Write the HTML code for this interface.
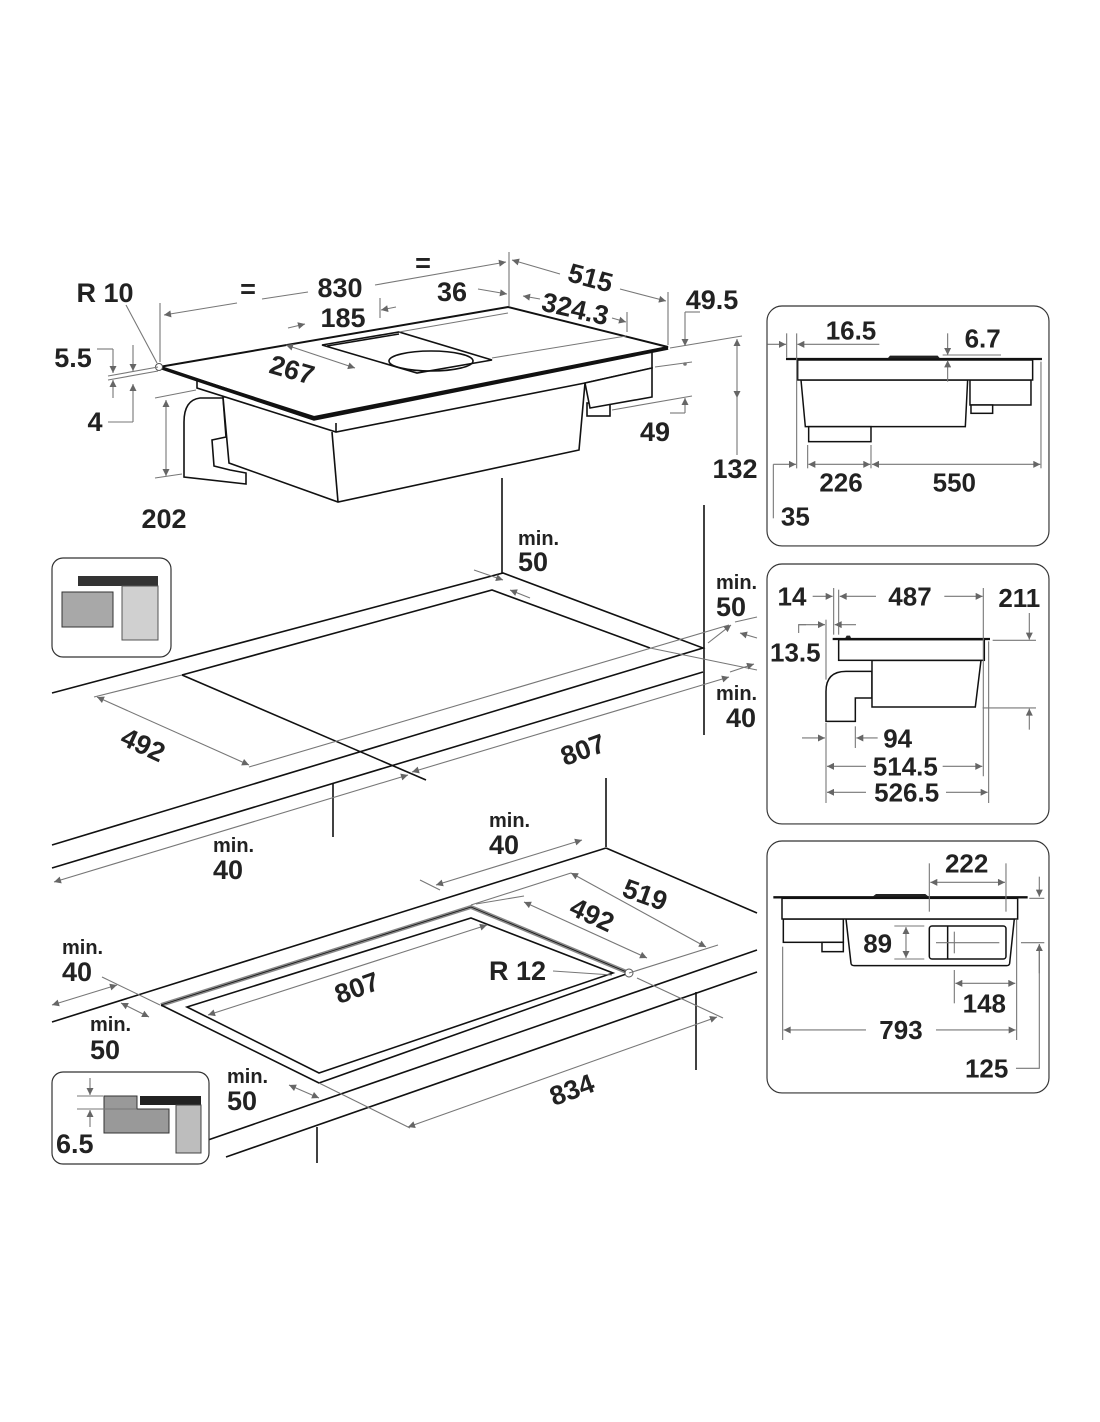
<!DOCTYPE html>
<html><head><meta charset="utf-8"><style>
html,body{margin:0;padding:0;background:#fff}
svg{display:block}
text{font-family:"Liberation Sans",sans-serif;font-weight:bold;fill:#222}
.n{font-size:27px}
.m{font-size:20px}
.d{stroke:#777;stroke-width:1.1;fill:none}
.da{stroke:#777;stroke-width:1.1;fill:none;marker-start:url(#a);marker-end:url(#a)}
.de{stroke:#777;stroke-width:1.1;fill:none;marker-end:url(#a)}
.k{stroke:#111;stroke-width:1.6;fill:none}
.kf{stroke:#111;stroke-width:1.6;fill:#fff}
.pd{stroke:#777;stroke-width:3.3;fill:none}
.pda{stroke:#777;stroke-width:3.3;fill:none;marker-start:url(#b);marker-end:url(#b)}
.pde{stroke:#777;stroke-width:3.3;fill:none;marker-end:url(#b)}
.pk{stroke:#111;stroke-width:4.5;fill:none}
.pkf{stroke:#111;stroke-width:4.5;fill:#fff}
.pt{font-size:78px}
</style></head><body>
<svg width="1100" height="1422" viewBox="0 0 1100 1422" xmlns="http://www.w3.org/2000/svg">
<defs>
<marker id="a" viewBox="0 0 10 10" refX="10" refY="5" markerWidth="9" markerHeight="7" orient="auto-start-reverse" markerUnits="userSpaceOnUse"><path d="M0,0 L10,5 L0,10 z" fill="#666"/></marker>
<marker id="b" viewBox="0 0 10 10" refX="10" refY="5" markerWidth="27" markerHeight="21" orient="auto-start-reverse" markerUnits="userSpaceOnUse"><path d="M0,0 L10,5 L0,10 z" fill="#666"/></marker>
</defs>

<!-- ===== TOP HOB ===== -->
<!-- duct -->
<path class="kf" d="M223,398 L200,398 Q184,400 184,422 L184,477 L246,484 L246,473 L230,470 L214,466 L212,440 L226,437 Z"/>
<!-- box -->
<path class="kf" d="M223,397 L229,463 L338,502 L579,450 L585,383 Z"/>
<line class="k" x1="332" y1="432" x2="338" y2="502"/>
<!-- rim -->
<path class="kf" d="M197,380 L197,388 L336,432 L585,383 L652,368 L652,352 Z"/>
<line class="k" x1="336" y1="423" x2="336" y2="432"/>
<rect class="kf" x="587" y="403" width="23" height="13"/>
<path class="kf" d="M585,383 L652,368 L652,397 L590,408 Z"/>
<!-- plate -->
<path d="M159,367 L508,307 L668,347 L314,417 Z" fill="#fff" stroke="#111" stroke-width="2"/>
<path d="M159,367 L314,419 L668,348" fill="none" stroke="#111" stroke-width="3.5"/>
<path class="k" stroke-width="1.3" d="M322,345 L399,332 L492,360 L417,373 Z"/>
<path class="k" stroke-width="1.3" d="M327,346 L399,334"/>
<ellipse cx="431" cy="361" rx="42" ry="10" class="k" stroke-width="1.3"/>
<line class="d" x1="399" y1="332" x2="508" y2="313"/>
<line class="d" x1="492" y1="358" x2="626" y2="336"/>
<circle cx="159" cy="367" r="3.5" fill="#fff" stroke="#555"/>
<line class="d" x1="126" y1="305" x2="157" y2="363"/>
<!-- top dims -->
<line class="d" x1="160" y1="303" x2="160" y2="362"/>
<line class="d" x1="509" y1="252" x2="509" y2="306"/>
<line class="d" x1="668" y1="292" x2="668" y2="345"/>
<line class="de" x1="237" y1="303" x2="164" y2="315"/>
<line class="d" x1="262" y1="299" x2="308" y2="292"/>
<line class="de" x1="375" y1="285" x2="506" y2="262"/>
<line class="de" x1="560" y1="274" x2="512" y2="260"/>
<line class="de" x1="620" y1="289" x2="666" y2="301"/>
<line class="de" x1="478" y1="289" x2="507" y2="294"/>
<line class="d" x1="627" y1="312" x2="627" y2="332"/>
<line class="de" x1="540" y1="299" x2="523" y2="296"/>
<line class="de" x1="612" y1="318" x2="626" y2="322"/>
<line class="d" x1="380" y1="298" x2="380" y2="318"/>
<line class="de" x1="288" y1="328" x2="305" y2="324"/>
<line class="de" x1="396" y1="307" x2="381" y2="310"/>
<line class="da" x1="286" y1="345" x2="355" y2="368"/>
<!-- left small dims -->
<line class="d" x1="97" y1="349" x2="113" y2="349"/>
<line class="de" x1="113" y1="349" x2="113" y2="373"/>
<line class="de" x1="133" y1="345" x2="133" y2="371"/>
<line class="d" x1="108" y1="380" x2="158" y2="371"/>
<line class="d" x1="108" y1="376" x2="158" y2="367"/>
<line class="d" x1="108" y1="422" x2="133" y2="422"/>
<line class="de" x1="133" y1="422" x2="133" y2="384"/>
<line class="de" x1="113" y1="398" x2="113" y2="380"/>
<line class="d" x1="155" y1="398" x2="196" y2="390"/>
<line class="d" x1="155" y1="478" x2="182" y2="474"/>
<line class="da" x1="166" y1="400" x2="166" y2="476"/>
<!-- right dims -->
<line class="d" x1="670" y1="348" x2="742" y2="336"/>
<line class="d" x1="655" y1="367" x2="692" y2="362"/>
<line class="d" x1="612" y1="410" x2="692" y2="396"/>
<line class="d" x1="700" y1="312" x2="685" y2="312"/>
<line class="de" x1="685" y1="312" x2="685" y2="346"/>
<line class="d" x1="670" y1="413" x2="685" y2="413"/>
<line class="de" x1="685" y1="413" x2="685" y2="398"/>
<circle cx="685" cy="364" r="1.8" fill="#777"/>
<line class="da" x1="737" y1="339" x2="737" y2="398"/>
<line class="d" x1="737" y1="398" x2="737" y2="455"/>
<!-- top texts -->
<text class="n" x="105" y="302" text-anchor="middle">R 10</text>
<text class="n" x="73" y="367" text-anchor="middle">5.5</text>
<text class="n" x="95" y="431" text-anchor="middle">4</text>
<text class="n" x="164" y="528" text-anchor="middle">202</text>
<text class="n" x="248" y="298" text-anchor="middle">=</text>
<text class="n" x="340" y="297" text-anchor="middle">830</text>
<text class="n" x="423" y="272" text-anchor="middle">=</text>
<text class="n" x="452" y="301" text-anchor="middle">36</text>
<text class="n" x="343" y="327" text-anchor="middle">185</text>
<text class="n" x="590" y="287" text-anchor="middle" transform="rotate(15 590 280)">515</text>
<text class="n" x="575" y="318" text-anchor="middle" transform="rotate(13 575 310)">324.3</text>
<text class="n" x="292" y="379" text-anchor="middle" transform="rotate(16 292 370)">267</text>
<text class="n" x="712" y="309" text-anchor="middle">49.5</text>
<text class="n" x="655" y="441" text-anchor="middle">49</text>
<text class="n" x="735" y="478" text-anchor="middle">132</text>

<!-- ===== MIDDLE COUNTERTOP ===== -->
<line class="k" x1="502" y1="478" x2="502" y2="574"/>
<line class="k" x1="704" y1="505" x2="704" y2="735"/>
<path class="k" d="M52,693 L503,573 L703,648 L52,845"/>
<line class="k" x1="52" y1="868" x2="703" y2="672"/>
<line class="k" x1="333" y1="783" x2="333" y2="837"/>
<line class="k" x1="606" y1="778" x2="606" y2="847"/>
<!-- cutout -->
<path class="k" stroke-width="1.3" d="M182,675 L492,590 L650,648"/>
<line class="k" stroke-width="1.3" x1="182" y1="675" x2="426" y2="780"/>
<line class="d" x1="650" y1="648" x2="757" y2="670"/>
<line class="d" x1="249" y1="767" x2="729" y2="625"/>
<line class="d" x1="94" y1="697" x2="182" y2="675"/>
<line class="da" x1="97" y1="697" x2="249" y2="765"/>
<line class="da" x1="412" y1="772" x2="729" y2="677"/>
<line class="da" x1="54" y1="882" x2="408" y2="775"/>
<line class="de" x1="474" y1="570" x2="503" y2="580"/>
<line class="de" x1="530" y1="598" x2="510" y2="590"/>
<line class="de" x1="708" y1="643" x2="731" y2="625"/>
<line class="de" x1="757" y1="638" x2="740" y2="633"/>
<line class="de" x1="730" y1="672" x2="754" y2="664"/>
<line class="d" x1="735" y1="622" x2="757" y2="617"/>
<text class="m" x="518" y="545">min.</text>
<text class="n" x="518" y="571">50</text>
<text class="m" x="716" y="589">min.</text>
<text class="n" x="716" y="616">50</text>
<text class="m" x="716" y="700">min.</text>
<text class="n" x="726" y="727">40</text>
<text class="n" x="143" y="754" text-anchor="middle" transform="rotate(25 143 745)">492</text>
<text class="n" x="583" y="759" text-anchor="middle" transform="rotate(-20 583 750)">807</text>
<text class="m" x="213" y="852">min.</text>
<text class="n" x="213" y="879">40</text>

<!-- ===== LOWER COUNTERTOP ===== -->
<line class="k" x1="606" y1="848" x2="757" y2="913"/>
<line class="k" x1="52" y1="1022" x2="606" y2="848"/>
<line class="k" x1="208" y1="1140" x2="757" y2="950"/>
<line class="k" x1="226" y1="1157" x2="757" y2="972"/>
<line class="k" x1="317" y1="1127" x2="317" y2="1163"/>
<line class="k" x1="696" y1="992" x2="696" y2="1070"/>
<path d="M161,1005 L471,907 L629,973" fill="none" stroke="#888" stroke-width="4"/>
<path d="M161,1005 L471,907 L629,973" fill="none" stroke="#111" stroke-width="0.8"/>
<path class="k" stroke-width="1.3" d="M161,1005 L319,1083 L629,973"/>
<path class="k" stroke-width="1.3" d="M187,1007 L471,918 L613,973 L319,1073 Z"/>
<circle cx="629" cy="973" r="4" fill="#fff" stroke="#555"/>
<line class="d" x1="553" y1="971" x2="612" y2="975"/>
<line class="d" x1="471" y1="905" x2="571" y2="873"/>
<line class="d" x1="476" y1="904" x2="524" y2="896"/>
<line class="da" x1="571" y1="873" x2="706" y2="947"/>
<line class="da" x1="524" y1="902" x2="647" y2="958"/>
<line class="d" x1="629" y1="973" x2="718" y2="945"/>
<line class="d" x1="637" y1="978" x2="723" y2="1018"/>
<line class="da" x1="208" y1="1015" x2="487" y2="925"/>
<line class="da" x1="408" y1="1127" x2="717" y2="1017"/>
<line class="d" x1="319" y1="1083" x2="410" y2="1128"/>
<line class="da" x1="436" y1="885" x2="582" y2="840"/>
<line class="d" x1="420" y1="880" x2="440" y2="890"/>
<line class="da" x1="52" y1="1005" x2="117" y2="985"/>
<line class="d" x1="102" y1="977" x2="160" y2="1005"/>
<line class="da" x1="121" y1="1003" x2="149" y2="1017"/>
<line class="da" x1="289" y1="1085" x2="319" y2="1098"/>
<text class="m" x="489" y="827">min.</text>
<text class="n" x="489" y="854">40</text>
<text class="n" x="645" y="904" text-anchor="middle" transform="rotate(20 645 895)">519</text>
<text class="n" x="592" y="924" text-anchor="middle" transform="rotate(25 592 915)">492</text>
<text class="n" x="357" y="997" text-anchor="middle" transform="rotate(-20 357 988)">807</text>
<text class="n" x="489" y="980">R 12</text>
<text class="m" x="62" y="954">min.</text>
<text class="n" x="62" y="981">40</text>
<text class="m" x="90" y="1031">min.</text>
<text class="n" x="90" y="1059">50</text>
<text class="m" x="227" y="1083">min.</text>
<text class="n" x="227" y="1110">50</text>
<text class="n" x="572" y="1099" text-anchor="middle" transform="rotate(-20 572 1090)">834</text>

<!-- ===== INSETS ===== -->
<rect x="52" y="558" width="119" height="99" rx="11" fill="#fff" stroke="#333" stroke-width="1.2"/>
<rect x="78" y="576" width="80" height="10" fill="#333"/>
<rect x="122" y="586" width="36" height="54" fill="#d0d0d0" stroke="#555" stroke-width="1"/>
<rect x="62" y="592" width="51" height="35" fill="#a8a8a8" stroke="#333" stroke-width="1"/>

<rect x="52" y="1072" width="157" height="92" rx="11" fill="#fff" stroke="#333" stroke-width="1.2"/>
<rect x="140" y="1096" width="61" height="9" fill="#222"/>
<rect x="176" y="1105" width="25" height="48" fill="#bdbdbd" stroke="#444" stroke-width="1"/>
<path d="M104,1096 L137,1096 L137,1109 L169,1109 L169,1133 L104,1133 Z" fill="#999" stroke="#333" stroke-width="1"/>
<line class="d" x1="77" y1="1096" x2="103" y2="1096"/>
<line class="d" x1="77" y1="1109" x2="136" y2="1109"/>
<line class="de" x1="90" y1="1078" x2="90" y2="1095"/>
<line class="de" x1="90" y1="1127" x2="90" y2="1110"/>
<text class="n" x="56" y="1153">6.5</text>

<!-- ===== PANEL 1 ===== -->
<g transform="translate(766,305) scale(0.3333)">
<rect x="3" y="3" width="846" height="720" rx="45" fill="#fff" stroke="#333" stroke-width="3.5"/>
<rect class="pkf" x="612" y="225" width="183" height="75"/>
<rect class="pkf" x="615" y="300" width="65" height="25"/>
<path class="pkf" d="M105,225 L118,365 L598,365 L605,225 Z"/>
<rect class="pkf" x="128" y="365" width="187" height="45"/>
<rect class="pkf" x="95" y="165" width="705" height="60"/>
<line x1="60" y1="162" x2="828" y2="162" stroke="#111" stroke-width="7"/>
<path d="M365,160 L372,152 L515,152 L522,160 Z" fill="#222"/>
<line class="pd" x1="62" y1="85" x2="62" y2="158"/>
<line class="pd" x1="92" y1="85" x2="92" y2="490"/>
<line class="pd" x1="125" y1="420" x2="125" y2="490"/>
<line class="pd" x1="315" y1="420" x2="315" y2="490"/>
<line class="pd" x1="825" y1="170" x2="825" y2="490"/>
<line class="pde" x1="5" y1="118" x2="60" y2="118"/>
<line class="pde" x1="340" y1="118" x2="94" y2="118"/>
<line class="pde" x1="545" y1="85" x2="545" y2="150"/>
<line class="pde" x1="545" y1="230" x2="545" y2="166"/>
<line class="pd" x1="530" y1="150" x2="705" y2="150"/>
<line class="pd" x1="22" y1="478" x2="22" y2="640"/>
<line class="pde" x1="22" y1="478" x2="90" y2="478"/>
<line class="pda" x1="127" y1="478" x2="313" y2="478"/>
<line class="pda" x1="318" y1="478" x2="823" y2="478"/>
<text class="pt" x="255" y="103" text-anchor="middle">16.5</text>
<text class="pt" x="650" y="128" text-anchor="middle">6.7</text>
<text class="pt" x="225" y="560" text-anchor="middle">226</text>
<text class="pt" x="565" y="560" text-anchor="middle">550</text>
<text class="pt" x="88" y="662" text-anchor="middle">35</text>
</g>

<!-- ===== PANEL 2 ===== -->
<g transform="translate(766,563) scale(0.3333)">
<rect x="3" y="3" width="846" height="780" rx="45" fill="#fff" stroke="#333" stroke-width="3.5"/>
<path class="pkf" d="M180,475 L180,385 Q180,325 240,325 L318,325 L318,405 L268,405 L268,475 Z"/>
<path class="pkf" d="M318,292 L318,432 L628,432 L645,292 Z"/>
<rect class="pkf" x="218" y="230" width="437" height="62"/>
<line x1="200" y1="228" x2="672" y2="228" stroke="#111" stroke-width="7"/>
<path d="M238,225 L242,218 L252,218 L255,225 Z" fill="#222"/>
<line class="pd" x1="203" y1="75" x2="203" y2="215"/>
<line class="pd" x1="218" y1="80" x2="218" y2="215"/>
<line class="pd" x1="652" y1="75" x2="652" y2="640"/>
<line class="pd" x1="668" y1="235" x2="668" y2="720"/>
<line class="pd" x1="180" y1="170" x2="180" y2="350"/>
<line class="pd" x1="180" y1="480" x2="180" y2="720"/>
<line class="pd" x1="268" y1="490" x2="268" y2="555"/>
<line class="pde" x1="140" y1="100" x2="200" y2="100"/>
<line class="pde" x1="330" y1="100" x2="221" y2="100"/>
<line class="pde" x1="535" y1="100" x2="650" y2="100"/>
<line class="pde" x1="790" y1="150" x2="790" y2="230"/>
<line class="pd" x1="680" y1="232" x2="810" y2="232"/>
<line class="pde" x1="790" y1="500" x2="790" y2="437"/>
<line class="pd" x1="650" y1="435" x2="810" y2="435"/>
<path class="pd" d="M98,210 L98,185 L120,185"/>
<line class="pde" x1="98" y1="185" x2="177" y2="185"/>
<line class="pde" x1="270" y1="185" x2="206" y2="185"/>
<line class="pde" x1="108" y1="525" x2="177" y2="525"/>
<line class="pde" x1="335" y1="525" x2="271" y2="525"/>
<line class="pde" x1="300" y1="610" x2="183" y2="610"/>
<line class="pde" x1="530" y1="610" x2="649" y2="610"/>
<line class="pde" x1="300" y1="688" x2="183" y2="688"/>
<line class="pde" x1="540" y1="688" x2="665" y2="688"/>
<text class="pt" x="78" y="128" text-anchor="middle">14</text>
<text class="pt" x="432" y="128" text-anchor="middle">487</text>
<text class="pt" x="760" y="132" text-anchor="middle">211</text>
<text class="pt" x="88" y="295" text-anchor="middle">13.5</text>
<text class="pt" x="395" y="553" text-anchor="middle">94</text>
<text class="pt" x="418" y="638" text-anchor="middle">514.5</text>
<text class="pt" x="422" y="716" text-anchor="middle">526.5</text>
</g>

<!-- ===== PANEL 3 ===== -->
<g transform="translate(766,840) scale(0.3333)">
<rect x="3" y="3" width="846" height="756" rx="45" fill="#fff" stroke="#333" stroke-width="3.5"/>
<rect class="pkf" x="52" y="237" width="180" height="70"/>
<rect class="pkf" x="168" y="307" width="64" height="28"/>
<path class="pkf" d="M240,237 L255,370 Q256,377 265,377 L722,377 Q730,377 731,370 L745,237 Z"/>
<rect class="pk" stroke-width="3.5" x="490" y="258" width="230" height="99" rx="8"/>
<line class="pk" stroke-width="3.5" x1="545" y1="258" x2="545" y2="357"/>
<line class="pd" x1="510" y1="308" x2="700" y2="308"/>
<line class="pd" x1="565" y1="275" x2="565" y2="340"/>
<rect class="pkf" x="48" y="175" width="707" height="62"/>
<line x1="22" y1="172" x2="785" y2="172" stroke="#111" stroke-width="7"/>
<path d="M320,170 L330,162 L478,162 L488,170 Z" fill="#222"/>
<line class="pd" x1="490" y1="70" x2="490" y2="215"/>
<line class="pd" x1="720" y1="70" x2="720" y2="215"/>
<line class="pda" x1="493" y1="127" x2="717" y2="127"/>
<line class="pde" x1="820" y1="110" x2="820" y2="170"/>
<line class="pd" x1="790" y1="175" x2="835" y2="175"/>
<line class="pda" x1="420" y1="261" x2="420" y2="354"/>
<line class="pd" x1="385" y1="258" x2="475" y2="258"/>
<line class="pd" x1="385" y1="357" x2="475" y2="357"/>
<line class="pd" x1="565" y1="390" x2="565" y2="490"/>
<line class="pda" x1="568" y1="430" x2="748" y2="430"/>
<line class="pd" x1="752" y1="240" x2="752" y2="600"/>
<line class="pd" x1="50" y1="320" x2="50" y2="600"/>
<line class="pde" x1="300" y1="570" x2="53" y2="570"/>
<line class="pde" x1="510" y1="570" x2="749" y2="570"/>
<path class="pd" d="M750,685 L820,685 L820,320"/>
<line class="pde" x1="820" y1="400" x2="820" y2="312"/>
<line class="pd" x1="765" y1="308" x2="835" y2="308"/>
<text class="pt" x="602" y="97" text-anchor="middle">222</text>
<text class="pt" x="335" y="337" text-anchor="middle">89</text>
<text class="pt" x="655" y="518" text-anchor="middle">148</text>
<text class="pt" x="405" y="597" text-anchor="middle">793</text>
<text class="pt" x="662" y="713" text-anchor="middle">125</text>
</g>
</svg>
</body></html>
